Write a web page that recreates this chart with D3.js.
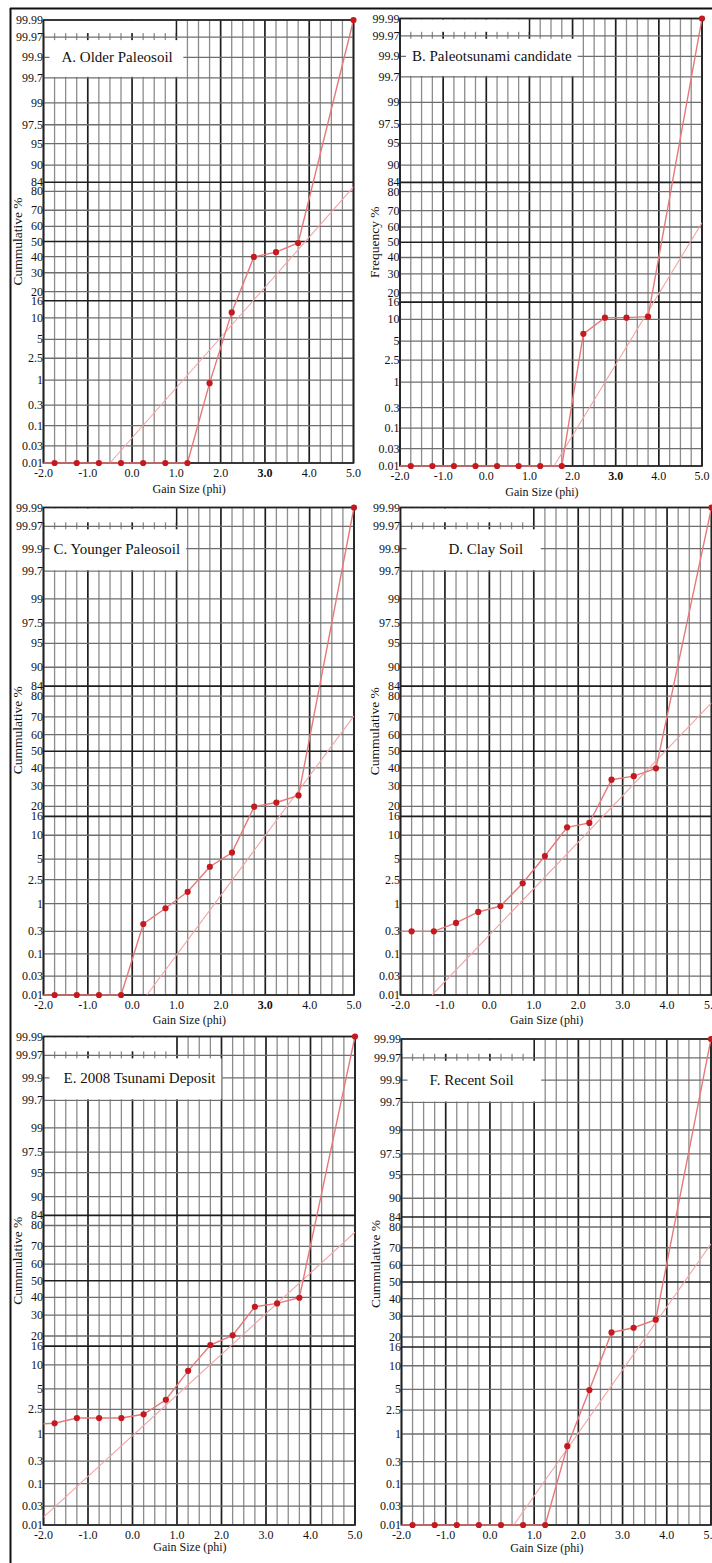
<!DOCTYPE html>
<html><head><meta charset="utf-8">
<script src="https://cdn.jsdelivr.net/npm/d3@7/dist/d3.min.js"></script>
<style>body{margin:0;background:#fff}svg{display:block}text{font-family:"Liberation Serif","Times New Roman",serif;fill:#111}</style>
</head><body>
<script>
// ---------- DATA ----------
const phiValues = [-2.25, -1.75, -1.25, -0.75, -0.25, 0.25, 0.75, 1.25, 1.75, 2.25, 2.75, 3.25, 3.75, 5.0];
const seriesA = [0.01, 0.01, 0.01, 0.01, 0.01, 0.01, 0.01, 0.01, 0.87, 11.7, 39.8, 42.9, 49, 99.99];
const seriesB = [0.01, 0.01, 0.01, 0.01, 0.01, 0.01, 0.01, 0.01, 0.01, 6.4, 10.5, 10.5, 10.8, 99.99];
const seriesC = [0.01, 0.01, 0.01, 0.01, 0.01, 0.42, 0.83, 1.6, 3.9, 6.1, 19.9, 21.7, 25, 99.99];
const seriesD = [0.3, 0.3, 0.3, 0.44, 0.71, 0.91, 2.2, 5.5, 12.3, 13.7, 33.2, 35.2, 39.7, 99.99];
const seriesE = [1.45, 1.5, 1.83, 1.83, 1.83, 2.1, 3.5, 8.5, 16.4, 20.3, 34.6, 36.5, 39.8, 99.99];
const seriesF = [0.01, 0.01, 0.01, 0.01, 0.01, 0.01, 0.01, 0.01, 0.6, 4.9, 22, 24.2, 28.2, 99.99];
const fitA = [[-0.5, 0.01], [5.0, 82]];
const fitB = [[1.57, 0.01], [5.0, 62.7]];
const fitC = [[0.33, 0.01], [5.0, 70.5]];
const fitD = [[-1.29, 0.01], [5.0, 77]];
const fitE = [[-2.0, 0.016], [5.0, 77]];
const fitF = [[0.54, 0.01], [5.0, 72]];
const panelTitles = ["A. Older Paleosoil", "B. Paleotsunami candidate", "C. Younger Paleosoil", "D. Clay Soil", "E. 2008 Tsunami Deposit", "F. Recent Soil"];
const yAxisTitles = ["Cummulative %", "Frequency %", "Cummulative %", "Cummulative %", "Cummulative %", "Cummulative %"];
const xAxisTitle = "Gain Size (phi)";
const xTickValues = [-2, -1, 0, 1, 2, 3, 4, 5];
const xTickLabels = ["-2.0", "-1.0", "0.0", "1.0", "2.0", "3.0", "4.0", "5.0"];
const boldTickPanels = [true, true, true, false, false, false];
const yTickValues = [0.01, 0.03, 0.1, 0.3, 1, 2.5, 5, 10, 16, 20, 30, 40, 50, 60, 70, 80, 84, 90, 95, 97.5, 99, 99.7, 99.9, 99.97, 99.99];
const yTickLabels = ["0.01", "0.03", "0.1", "0.3", "1", "2.5", "5", "10", "16", "20", "30", "40", "50", "60", "70", "80", "84", "90", "95", "97.5", "99", "99.7", "99.9", "99.97", "99.99"];
const yMajorValues = [16, 50, 84];

const seriesList = [seriesA, seriesB, seriesC, seriesD, seriesE, seriesF];
const fitList = [fitA, fitB, fitC, fitD, fitE, fitF];

// ---------- LAYOUT ----------
const layout = [
  {l: 43.5, r: 353.5, t: 20, b: 463, titleDx: 18, xtOff: 26, ytOff: 0},
  {l: 400, r: 702, t: 18.5, b: 466, titleDx: 12, xtOff: 26, ytOff: 0},
  {l: 43.5, r: 354, t: 507.5, b: 995, titleDx: 10, xtOff: 25, ytOff: -21},
  {l: 400.5, r: 711.5, t: 507.5, b: 995, titleDx: 48, xtOff: 25, ytOff: -20},
  {l: 43.5, r: 355, t: 1036.5, b: 1525, titleDx: 20, xtOff: 22, ytOff: -20},
  {l: 401.5, r: 711, t: 1039, b: 1525, titleDx: 28, xtOff: 23, ytOff: -18}
];

// inverse normal CDF (Acklam)
function probit(p) {
  const a = [-3.969683028665376e+01, 2.209460984245205e+02, -2.759285104469687e+02, 1.383577518672690e+02, -3.066479806614716e+01, 2.506628277459239e+00];
  const b = [-5.447609879822406e+01, 1.615858368580409e+02, -1.556989798598866e+02, 6.680131188771972e+01, -1.328068155288572e+01];
  const c = [-7.784894002430293e-03, -3.223964580411365e-01, -2.400758277161838e+00, -2.549671348194377e+00, 4.374664141464968e+00, 2.938163982698783e+00];
  const d = [7.784695709041462e-03, 3.224671290700398e-01, 2.445134137142996e+00, 3.754408361028224e+00];
  const pl = 0.02425, ph = 1 - pl;
  let q, r;
  if (p < pl) { q = Math.sqrt(-2 * Math.log(p)); return (((((c[0]*q+c[1])*q+c[2])*q+c[3])*q+c[4])*q+c[5]) / ((((d[0]*q+d[1])*q+d[2])*q+d[3])*q+1); }
  if (p <= ph) { q = p - 0.5; r = q*q; return (((((a[0]*r+a[1])*r+a[2])*r+a[3])*r+a[4])*r+a[5])*q / (((((b[0]*r+b[1])*r+b[2])*r+b[3])*r+b[4])*r+1); }
  q = Math.sqrt(-2 * Math.log(1 - p)); return -(((((c[0]*q+c[1])*q+c[2])*q+c[3])*q+c[4])*q+c[5]) / ((((d[0]*q+d[1])*q+d[2])*q+d[3])*q+1);
}

const svg = d3.select("body").append("svg").attr("width", 712).attr("height", 1563);
const defs = svg.append("defs");

// outer frame
svg.append("line").attr("x1", 10).attr("x2", 712).attr("y1", 8.5).attr("y2", 8.5).attr("stroke", "#111").attr("stroke-width", 2);
svg.append("line").attr("x1", 10.5).attr("x2", 10.5).attr("y1", 8).attr("y2", 1563).attr("stroke", "#111").attr("stroke-width", 2);

const gridPhi = d3.range(0, 29).map(i => -2 + i * 0.25);

layout.forEach((L, i) => {
  const g = svg.append("g");
  const x = d3.scaleLinear().domain([-2, 5]).range([L.l, L.r]);
  const yp = d3.scaleLinear().domain([probit(0.0001), probit(0.9999)]).range([L.b, L.t]);
  const Y = v => yp(probit(v / 100));

  // vertical grid
  g.selectAll(".vg").data(gridPhi).join("line")
    .attr("x1", d => x(d)).attr("x2", d => x(d)).attr("y1", L.t).attr("y2", L.b)
    .attr("stroke", d => Number.isInteger(d) ? "#1e1e1e" : "#8c8c8c")
    .attr("stroke-width", d => Number.isInteger(d) ? 1.7 : 1.3);
  // horizontal grid
  g.selectAll(".hg").data(yTickValues).join("line")
    .attr("x1", L.l).attr("x2", L.r).attr("y1", d => Y(d)).attr("y2", d => Y(d))
    .attr("stroke", d => yMajorValues.includes(d) ? "#1e1e1e" : "#6e6e6e")
    .attr("stroke-width", d => yMajorValues.includes(d) ? 1.7 : 1.3);

  // title box
  const boxG = g.append("g");
  const title = g.append("text").attr("x", L.l + L.titleDx).attr("y", Y(99.9))
    .attr("dominant-baseline", "central").attr("font-size", 15).text(panelTitles[i]);
  const tw = title.node().getComputedTextLength();
  const boxRight = Math.max(L.l + L.titleDx + tw + 6, x(1) + 7);
  boxG.append("rect").attr("x", L.l + 1).attr("y", L.t + 1)
    .attr("width", x(1) - 1 - (L.l + 1)).attr("height", Y(99.97) - 4 - (L.t + 1)).attr("fill", "#fff");
  boxG.append("rect").attr("x", L.l + 6).attr("y", Y(99.97) + 3)
    .attr("width", boxRight - (L.l + 6)).attr("height", Y(99.7) - 1 - (Y(99.97) + 3)).attr("fill", "#fff");

  // border
  g.append("rect").attr("x", L.l).attr("y", L.t).attr("width", L.r - L.l).attr("height", L.b - L.t)
    .attr("fill", "none").attr("stroke", "#222").attr("stroke-width", 1.6);

  // y tick labels
  g.selectAll(".yl").data(yTickValues).join("text")
    .attr("x", L.l - 0.5).attr("y", d => Y(d)).attr("text-anchor", "end")
    .attr("dominant-baseline", "central").attr("font-size", 12)
    .text((d, k) => yTickLabels[k]);
  // x tick labels
  g.selectAll(".xl").data(xTickValues).join("text")
    .attr("x", d => x(d)).attr("y", L.b + 9.5).attr("text-anchor", "middle")
    .attr("dominant-baseline", "central").attr("font-size", 12)
    .attr("font-weight", d => (d === 3 && boldTickPanels[i]) ? "bold" : "normal")
    .text((d, k) => xTickLabels[k]);
  // axis titles
  g.append("text").attr("x", L.l + 0.47 * (L.r - L.l)).attr("y", L.b + L.xtOff)
    .attr("text-anchor", "middle").attr("dominant-baseline", "central").attr("font-size", 12).text(xAxisTitle);
  const yc = (L.t + L.b) / 2 + L.ytOff;
  g.append("text").attr("transform", `translate(${L.l - 26},${yc}) rotate(-90)`)
    .attr("text-anchor", "middle").attr("dominant-baseline", "central").attr("font-size", 13.5).text(yAxisTitles[i]);

  // clip
  const cid = "clip" + i;
  defs.append("clipPath").attr("id", cid).append("rect")
    .attr("x", L.l).attr("y", L.t - 1).attr("width", L.r - L.l).attr("height", L.b - L.t + 2);
  const cg = g.append("g").attr("clip-path", `url(#${cid})`);

  const line = d3.line().x(d => x(d[0])).y(d => Y(d[1]));
  cg.append("path").datum(fitList[i]).attr("d", line)
    .attr("fill", "none").attr("stroke", "#f2a3a3").attr("stroke-width", 1.1);
  const pts = phiValues.map((p, k) => [p, seriesList[i][k]]);
  cg.append("path").datum(pts).attr("d", line)
    .attr("fill", "none").attr("stroke", "#e87878").attr("stroke-width", 1.4);
  g.selectAll(".dot").data(pts.filter(d => d[0] >= -2)).join("circle")
    .attr("cx", d => x(d[0])).attr("cy", d => Y(d[1])).attr("r", 3.1).attr("fill", "#c41a1f");
});
</script>
</body></html>
